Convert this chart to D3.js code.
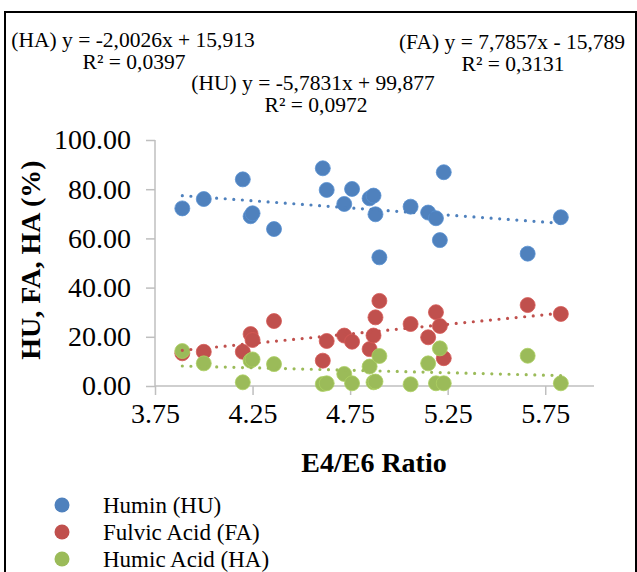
<!DOCTYPE html>
<html>
<head>
<meta charset="utf-8">
<script src="https://cdn.jsdelivr.net/npm/d3@7"></script>
<style>
  html, body { margin: 0; padding: 0; background: #fff; }
  svg text { font-family: "Times New Roman", "Liberation Serif", Tinos, serif; }
</style>
</head>
<body>
<div id="chart"></div>
<script>
// E4/E6 ratio of each sample and the three fractions (%)
const ratio = [3.89, 4.00, 4.20, 4.24, 4.25, 4.36, 4.61, 4.63, 4.72, 4.76, 4.85, 4.87, 4.88, 4.90, 5.06, 5.15, 5.19, 5.21, 5.23, 5.66, 5.83]
const humin = [72.2, 76.0, 84.0, 69.0, 70.2, 63.8, 88.5, 79.7, 74.0, 80.1, 76.3, 77.4, 69.8, 52.3, 72.9, 70.5, 68.2, 59.3, 86.9, 53.8, 68.6]
const fulvic = [13.3, 13.9, 13.9, 21.1, 18.7, 26.4, 10.3, 18.3, 20.5, 18.0, 15.0, 20.5, 27.9, 34.6, 25.2, 19.8, 30.0, 24.4, 11.3, 32.9, 29.3]
const humic = [14.2, 9.2, 1.5, 10.3, 10.8, 8.9, 0.8, 1.1, 4.9, 1.1, 7.9, 1.5, 1.8, 12.2, 0.7, 9.2, 1.1, 15.3, 1.1, 12.3, 1.1]

const seriesNames = ['Humin (HU)', 'Fulvic Acid (FA)', 'Humic Acid (HA)']
const seriesColors = ['#4f81bd', '#c0504d', '#9bbb59']
// linear trendlines as printed on the chart
const trendSlope = [-5.7831, 7.7857, -2.0026]
const trendIntercept = [99.877, -15.789, 15.913]
const equationText = [
	['(HU) y = -5,7831x + 99,877', 'R² = 0,0972'],
	['(FA) y = 7,7857x - 15,789', 'R² = 0,3131'],
	['(HA) y = -2,0026x + 15,913', 'R² = 0,0397']
]
const xTicks = [3.75, 4.25, 4.75, 5.25, 5.75]
const yTicks = [0, 20, 40, 60, 80, 100]

const W = 637, H = 572
const font = '"Times New Roman", "Liberation Serif", Tinos, serif'
const svg = d3.select('#chart').append('svg')
	.attr('width', W)
	.attr('height', H)
	.style('display', 'block')

// outer frame
svg.append('path')
	.attr('d', 'M5,' + (H + 5) + 'V12H636V' + (H + 5))
	.attr('fill', 'none')
	.attr('stroke', '#000')
	.attr('stroke-width', 2)

const x = d3.scaleLinear().domain([3.75, 6.0]).range([155, 594])
const y = d3.scaleLinear().domain([0, 100]).range([386, 140])

const axisColor = '#bfbfbf'

// y axis
const gy = svg.append('g')
	.attr('transform', 'translate(155,0)')
	.call(d3.axisLeft(y).tickValues(yTicks).tickSize(9).tickPadding(15)
		.tickFormat(d3.format('.2f')))
gy.attr('font-family', font)
gy.select('.domain').attr('stroke', axisColor).attr('stroke-width', 1.5)
	.attr('d', 'M0,' + y(100) + 'V' + y(0))
gy.selectAll('.tick line').attr('stroke', axisColor).attr('stroke-width', 1.5)
gy.selectAll('.tick text')
	.attr('fill', '#000')
	.style('font-family', font)
	.style('font-size', '28px')

// x axis
const gx = svg.append('g')
	.attr('transform', 'translate(0,386)')
	.call(d3.axisBottom(x).tickValues(xTicks).tickSize(9).tickPadding(8)
		.tickFormat(d3.format('.2f')))
gx.attr('font-family', font)
gx.select('.domain').attr('stroke', axisColor).attr('stroke-width', 1.5)
	.attr('d', 'M' + x(3.75) + ',0H' + x(6.0))
gx.selectAll('.tick line').attr('stroke', axisColor).attr('stroke-width', 1.5)
gx.selectAll('.tick text')
	.attr('fill', '#000')
	.style('font-family', font)
	.style('font-size', '28px')

// axis titles
svg.append('text')
	.attr('x', 374)
	.attr('y', 472)
	.attr('text-anchor', 'middle')
	.style('font-family', font)
	.style('font-size', '28px')
	.style('font-weight', 'bold')
	.text('E4/E6 Ratio')

svg.append('text')
	.attr('transform', 'translate(30,260) rotate(-90)')
	.attr('dy', '0.35em')
	.attr('text-anchor', 'middle')
	.style('font-family', font)
	.style('font-size', '28px')
	.style('font-weight', 'bold')
	.text('HU, FA, HA (%)')

// markers
const seriesValues = [humin, fulvic, humic]
for (let s = 0; s < seriesValues.length; s++) {
	svg.append('g')
		.selectAll('circle')
		.data(seriesValues[s])
		.join('circle')
		.attr('cx', (d, i) => x(ratio[i]))
		.attr('cy', d => y(d))
		.attr('r', 7.5)
		.attr('fill', seriesColors[s])
		.attr('stroke', d3.color(seriesColors[s]).brighter(0.3))
		.attr('stroke-width', 0.8)
}

// dotted trendlines
const xr = d3.extent(ratio)
for (let s = 0; s < seriesValues.length; s++) {
	svg.append('line')
		.attr('x1', x(xr[0]))
		.attr('y1', y(trendSlope[s] * xr[0] + trendIntercept[s]))
		.attr('x2', x(xr[1]))
		.attr('y2', y(trendSlope[s] * xr[1] + trendIntercept[s]))
		.attr('stroke', seriesColors[s])
		.attr('stroke-width', 3.2)
		.attr('stroke-linecap', 'round')
		.attr('stroke-dasharray', '0,8.6')
}

// equation labels
const eqPos = [[313, 90, 316, 112], [512, 49, 513, 71], [133, 47, 134, 69]]
for (let s = 0; s < equationText.length; s++) {
	svg.append('text')
		.attr('x', eqPos[s][0])
		.attr('y', eqPos[s][1])
		.attr('text-anchor', 'middle')
		.style('font-family', font)
		.style('font-size', '21.5px')
		.text(equationText[s][0])
	svg.append('text')
		.attr('x', eqPos[s][2])
		.attr('y', eqPos[s][3])
		.attr('text-anchor', 'middle')
		.style('font-family', font)
		.style('font-size', '21.5px')
		.text(equationText[s][1])
}

// legend
const legend = svg.append('g')
	.selectAll('g')
	.data(seriesNames)
	.join('g')
	.attr('transform', (d, i) => 'translate(62,' + (505 + i * 27) + ')')
legend.append('circle')
	.attr('r', 7.5)
	.attr('fill', (d, i) => seriesColors[i])
legend.append('text')
	.attr('x', 41)
	.attr('y', 8)
	.style('font-family', font)
	.style('font-size', '23px')
	.text(d => d)
</script>
</body>
</html>
